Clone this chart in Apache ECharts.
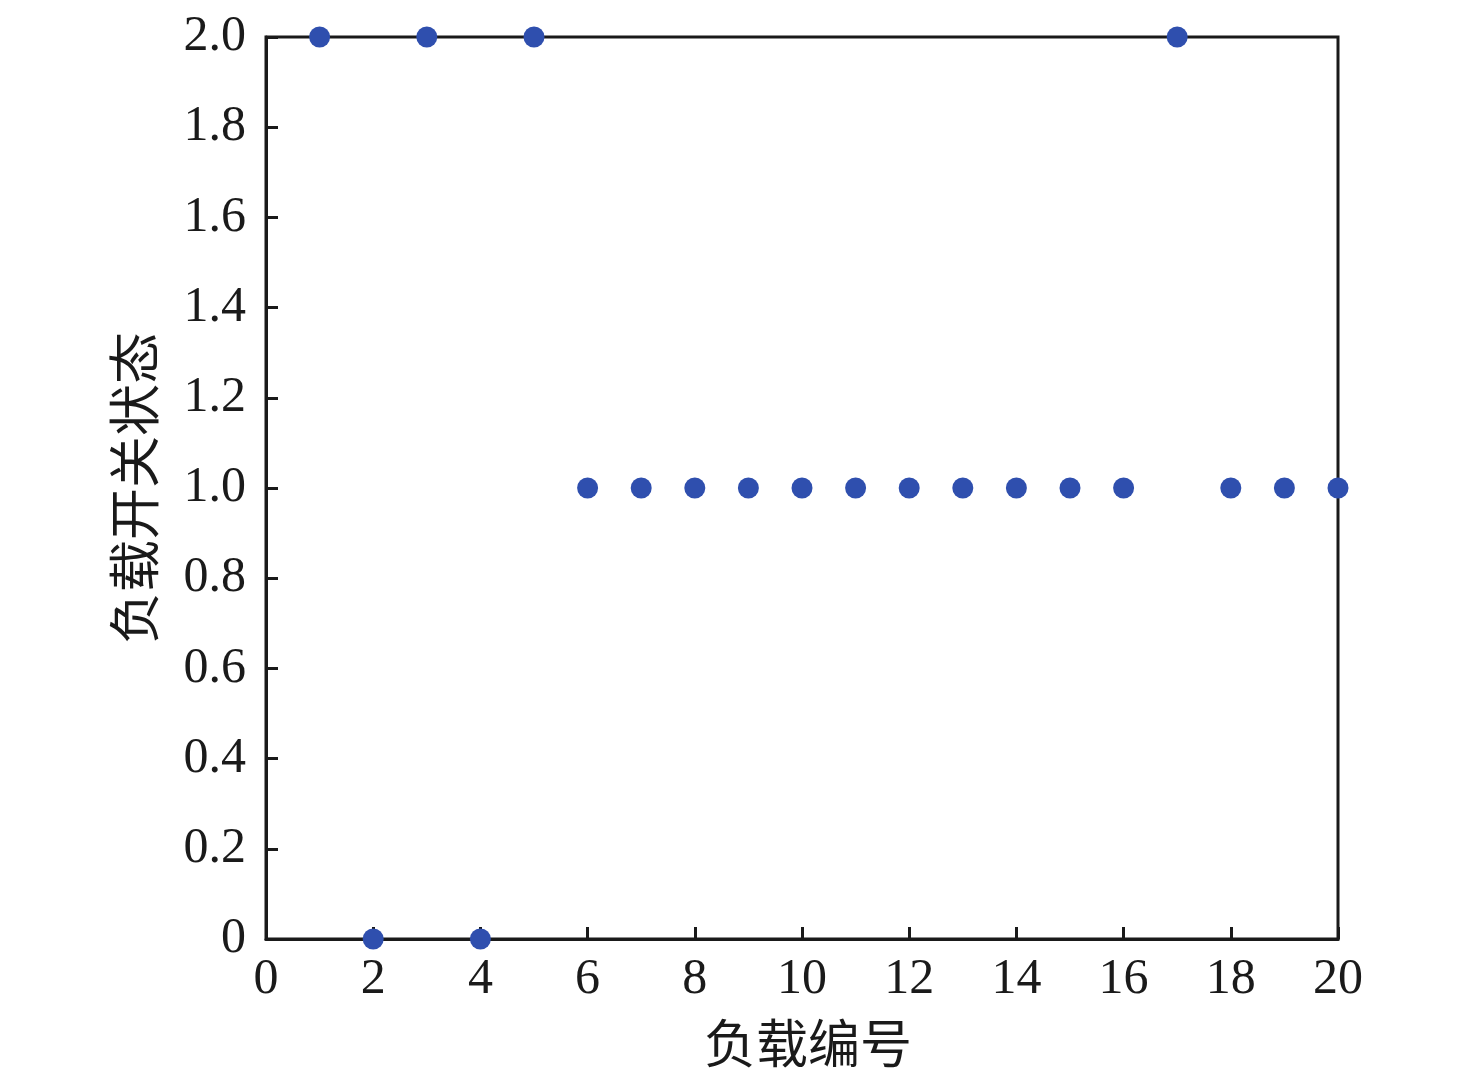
<!DOCTYPE html>
<html>
<head>
<meta charset="utf-8">
<script src="https://cdn.jsdelivr.net/npm/echarts@6/dist/echarts.min.js"></script>
<style>
html,body{margin:0;padding:0;background:#fff;}
#main{width:1476px;height:1083px;}
</style>
</head>
<body>
<div id="main"></div>
<script>
const loadIds = [1,2,3,4,5,6,7,8,9,10,11,12,13,14,15,16,17,18,19,20];
const switchStates = [2,0,2,0,2,1,1,1,1,1,1,1,1,1,1,1,2,1,1,1];
const xTicks = [0,2,4,6,8,10,12,14,16,18,20];
const yTicks = [0,0.2,0.4,0.6,0.8,1.0,1.2,1.4,1.6,1.8,2.0];

const serif = '"Liberation Serif", "Times New Roman", serif';
const cjk = '"Noto Sans CJK SC", sans-serif';

const chart = echarts.init(document.getElementById('main'), null, {renderer:'canvas'});
chart.setOption({
  backgroundColor:'#fff',
  animation:false,
  grid:{left:266,right:138,top:37,bottom:144,show:true,borderColor:'#1a1a1a',borderWidth:3,backgroundColor:'transparent'},
  xAxis:{
    type:'value',min:xTicks[0],max:xTicks[xTicks.length-1],interval:2,
    name:'负载编号',nameLocation:'middle',nameGap:78,
    nameTextStyle:{fontFamily:cjk,fontSize:52,color:'#1a1a1a',padding:[0,0,0,12]},
    axisLine:{show:true,lineStyle:{color:'#1a1a1a',width:3}},
    axisTick:{show:true,inside:true,length:12,lineStyle:{color:'#1a1a1a',width:3}},
    axisLabel:{fontFamily:serif,fontSize:50,color:'#1a1a1a',margin:16},
    splitLine:{show:false}
  },
  yAxis:{
    type:'value',min:yTicks[0],max:yTicks[yTicks.length-1],interval:0.2,
    name:'负载开关状态',nameLocation:'middle',nameGap:106,
    nameTextStyle:{fontFamily:cjk,fontSize:52,color:'#1a1a1a'},
    axisLine:{show:true,lineStyle:{color:'#1a1a1a',width:3}},
    axisTick:{show:true,inside:true,length:12,lineStyle:{color:'#1a1a1a',width:3}},
    axisLabel:{fontFamily:serif,fontSize:50,color:'#1a1a1a',margin:20,
      formatter:v=> v===0 ? '0' : v.toFixed(1)},
    splitLine:{show:false}
  },
  series:[{
    type:'scatter',
    data:loadIds.map((x,i)=>[x,switchStates[i]]),
    symbol:'circle',symbolSize:21,
    itemStyle:{color:'#2f4fae',opacity:1},
    clip:false,z:5
  }]
});
</script>
</body>
</html>
